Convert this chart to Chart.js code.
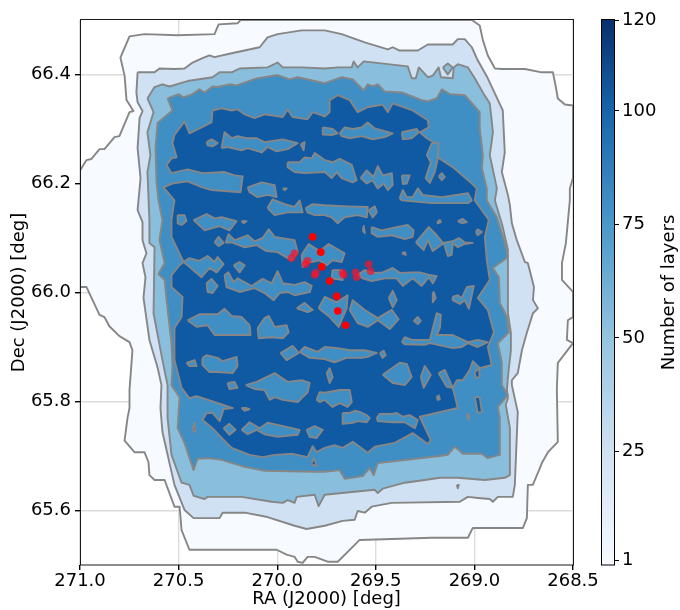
<!DOCTYPE html>
<html><head><meta charset="utf-8">
<style>html,body{margin:0;padding:0;background:#fff}#w{width:680px;height:610px;position:relative}</style>
<script src="https://cdn.jsdelivr.net/npm/chart.js@4/dist/chart.umd.min.js"></script>
</head><body><div id="w"><canvas id="c" width="680" height="610"></canvas></div>
<script>
const raTicks=[271,270.5,270,269.5,269,268.5];
const decTicks=[65.6,65.8,66,66.2,66.4];
const layerTicks=[1,25,50,75,100,120];
const colorbarValues=[0,25,50,75,100,120];
const colorbarColors=['#f7fbff','#d0e1f2','#94c4df','#4a98c9','#1764ab','#08306b'];
const levelColors=['#f7fbff','#cfe1f2','#89bedc','#3f8fc5','#1059a3'];
// contour outlines: flat RA, Dec pairs
const level1=[270.186,66.5,269.013,66.5,268.973,66.490,268.957,66.463,268.932,66.435,268.896,66.411,268.861,66.410,268.744,66.410,268.658,66.404,268.602,66.404,268.587,66.377,268.577,66.356,268.541,66.345,268.5,66.343,268.5,66.210,268.516,66.191,268.516,66.169,268.536,66.091,268.556,66.054,268.556,66.023,268.5,66.001,268.5,65.955,268.526,65.949,268.531,65.913,268.5,65.907,268.577,65.871,268.582,65.821,268.577,65.726,268.627,65.707,268.658,65.687,268.678,65.669,268.704,65.647,268.729,65.647,268.734,65.586,268.754,65.568,269.008,65.568,269.033,65.550,269.216,65.550,269.582,65.546,269.607,65.537,269.693,65.506,269.744,65.506,269.810,65.515,269.846,65.515,269.871,65.504,269.896,65.506,269.912,65.515,269.952,65.519,270.003,65.528,270.445,65.528,270.485,65.564,270.495,65.607,270.521,65.607,270.571,65.656,270.622,65.656,270.648,65.665,270.653,65.689,270.673,65.707,270.724,65.707,270.774,65.728,270.759,65.770,270.749,65.788,270.749,65.821,270.734,65.894,270.749,65.909,270.800,65.920,270.851,65.938,270.876,65.955,270.901,65.959,270.967,66.010,271,66.010,271,66.224,270.967,66.243,270.942,66.245,270.901,66.263,270.876,66.263,270.825,66.285,270.800,66.287,270.749,66.331,270.729,66.333,270.764,66.353,270.774,66.398,270.795,66.431,270.749,66.470,270.673,66.474,270.505,66.472,270.318,66.474,270.297,66.492,270.201,66.494];
const level25=[270.708,66.404,270.622,66.404,270.597,66.411,270.521,66.410,270.470,66.411,270.429,66.422,270.379,66.430,270.343,66.435,270.318,66.432,270.231,66.439,270.089,66.450,270.049,66.468,269.998,66.474,269.876,66.481,269.759,66.481,269.673,66.474,269.556,66.459,269.439,66.446,269.414,66.450,269.379,66.444,269.287,66.444,269.236,66.455,269.110,66.455,269.084,66.465,269.049,66.465,269.013,66.450,268.983,66.426,268.932,66.393,268.856,66.334,268.846,66.257,268.861,66.221,268.830,66.179,268.820,66.160,268.810,66.127,268.785,66.096,268.744,66.056,268.729,66.054,268.698,66.010,268.703,65.986,268.678,65.971,268.703,65.962,268.734,65.926,268.759,65.894,268.780,65.852,268.810,65.839,268.810,65.830,268.780,65.781,268.795,65.647,268.805,65.625,268.881,65.625,268.906,65.616,268.922,65.621,268.982,65.623,269.033,65.625,269.074,65.616,269.419,65.614,269.521,65.607,269.556,65.596,269.592,65.599,269.607,65.583,269.668,65.581,269.759,65.572,269.851,65.566,269.912,65.572,270.049,65.588,270.165,65.596,270.277,65.596,270.292,65.586,270.424,65.586,270.470,65.601,270.521,65.647,270.582,65.744,270.592,65.788,270.587,65.830,270.607,65.863,270.648,65.913,270.678,65.990,270.668,66.028,270.683,66.054,270.663,66.072,270.683,66.096,270.683,66.129,270.708,66.151,270.693,66.210,270.708,66.265,270.698,66.320,270.683,66.333,270.708,66.349,270.714,66.367];
const level50=[270.658,66.356,270.622,66.377,270.582,66.382,270.546,66.378,270.455,66.388,270.328,66.395,270.292,66.404,270.231,66.404,270.191,66.411,270.049,66.413,269.998,66.422,269.972,66.413,269.876,66.413,269.759,66.411,269.693,66.413,269.622,66.413,269.612,66.424,269.592,66.413,269.561,66.424,269.338,66.415,269.318,66.393,269.297,66.393,269.282,66.413,269.236,66.395,269.211,66.398,269.181,66.413,269.170,66.395,269.110,66.393,269.105,66.413,269.084,66.419,269.033,66.413,268.998,66.393,268.957,66.367,268.922,66.347,268.906,66.294,268.922,66.252,268.886,66.191,268.896,66.169,268.856,66.120,268.830,66.078,268.830,66.017,268.830,65.962,268.815,65.926,268.815,65.894,268.830,65.845,268.835,65.821,268.830,65.806,268.841,65.794,268.820,65.751,268.820,65.665,268.846,65.660,268.947,65.656,269.084,65.660,269.175,65.660,269.252,65.656,269.353,65.651,269.465,65.640,269.490,65.632,269.505,65.638,269.622,65.634,269.759,65.629,269.790,65.608,269.810,65.629,269.901,65.625,269.912,65.614,269.947,65.619,269.972,65.614,270.028,65.616,270.181,65.625,270.353,65.625,270.368,65.621,270.424,65.627,270.445,65.647,270.485,65.651,270.536,65.702,270.556,65.770,270.556,65.830,270.582,65.876,270.627,65.962,270.622,66.083,270.648,66.091,270.648,66.133,270.658,66.221,270.643,66.252,270.658,66.294,270.627,66.331];
const level50Specks=[[269.160,66.413,269.135,66.420,269.110,66.413,269.135,66.400],[269.089,65.647,269.079,65.647,269.084,65.641]];
const level75=[270.556,66.356,270.500,66.364,270.475,66.358,270.429,66.364,270.394,66.373,270.368,66.367,270.328,66.378,270.302,66.377,270.242,66.382,270.206,66.380,270.104,66.393,269.998,66.399,269.937,66.391,269.896,66.395,269.759,66.384,269.673,66.395,269.617,66.391,269.561,66.371,269.541,66.382,269.516,66.378,269.490,66.382,269.455,66.369,269.368,66.367,269.267,66.353,269.236,66.351,269.191,66.356,269.165,66.373,269.125,66.364,269.049,66.362,268.973,66.331,268.973,66.301,268.957,66.252,268.962,66.228,268.937,66.191,268.937,66.169,268.886,66.138,268.846,66.091,268.830,66.065,268.906,66.045,268.876,66.028,268.871,65.981,268.835,65.955,268.825,65.927,268.881,65.907,268.861,65.871,268.861,65.830,268.830,65.812,268.881,65.790,268.871,65.770,268.871,65.702,268.932,65.696,268.962,65.704,268.988,65.704,269.059,65.704,269.099,65.717,269.135,65.702,269.175,65.700,269.490,65.687,269.511,65.665,269.531,65.678,269.566,65.663,269.658,65.658,269.683,65.674,269.759,65.671,269.810,65.671,270.064,65.673,270.165,65.680,270.282,65.693,270.353,65.696,270.404,65.695,270.424,65.674,270.470,65.724,270.505,65.751,270.495,65.808,270.536,65.830,270.531,65.863,270.536,65.907,270.561,65.986,270.571,66.023,270.602,66.034,270.571,66.054,270.597,66.096,270.582,66.133,270.602,66.169,270.612,66.202,270.617,66.265,270.607,66.311,270.531,66.334];
const level100=[270.328,66.334,270.282,66.338,270.231,66.334,270.201,66.336,270.165,66.327,270.115,66.320,270.064,66.327,269.972,66.322,269.947,66.336,269.922,66.322,269.846,66.318,269.820,66.331,269.759,66.323,269.734,66.331,269.734,66.353,269.693,66.362,269.632,66.353,269.592,66.331,269.541,66.340,269.465,66.345,269.439,66.331,269.414,66.347,269.313,66.334,269.236,66.316,269.231,66.303,269.277,66.294,269.241,66.283,269.201,66.274,269.186,66.248,269.110,66.230,269.013,66.200,268.988,66.191,268.998,66.169,268.927,66.133,268.947,66.102,268.937,66.059,268.922,66.023,268.983,65.990,268.932,65.968,268.901,65.927,268.932,65.900,268.912,65.867,268.973,65.861,269.008,65.874,269.023,65.858,269.059,65.839,269.089,65.839,269.110,65.825,269.084,65.788,269.277,65.772,269.221,65.729,269.236,65.722,269.313,65.742,269.404,65.724,269.505,65.717,269.541,65.706,269.617,65.726,269.668,65.715,269.709,65.720,269.759,65.715,269.800,65.707,269.820,65.718,269.846,65.698,269.922,65.704,270.013,65.702,270.074,65.698,270.140,65.702,270.231,65.715,270.282,65.733,270.328,65.751,270.379,65.766,270.358,65.779,270.328,65.779,270.292,65.764,270.272,65.786,270.226,65.788,270.277,65.794,270.409,65.810,270.445,65.806,270.485,65.825,270.521,65.876,270.521,65.935,270.485,65.955,270.480,65.992,270.536,66.010,270.536,66.032,270.495,66.050,270.475,66.056,270.536,66.102,270.536,66.133,270.521,66.169,270.577,66.193,270.531,66.200,270.455,66.204,270.379,66.193,270.333,66.188,270.186,66.184,270.175,66.213,270.216,66.215,270.267,66.221,270.379,66.219,270.455,66.226,270.536,66.219,270.561,66.234,270.536,66.246,270.510,66.248,270.531,66.274,270.521,66.289,270.470,66.314,270.445,66.292,270.394,66.301,270.333,66.312];
// islands below 100 layers inside the deepest region
const islands=[
[270.358,66.276,270.333,66.281,270.302,66.274,270.328,66.268,270.353,66.270],
[270.282,66.265,270.267,66.294,270.231,66.283,270.201,66.287,270.155,66.283,270.104,66.283,270.064,66.276,269.972,66.281,269.896,66.274,269.947,66.263,270.003,66.259,270.049,66.267,270.079,66.257,270.150,66.265,270.181,66.261,270.252,66.267],
[269.881,66.272,269.861,66.276,269.866,66.261],
[269.947,66.239,269.886,66.239,269.861,66.248,269.825,66.246,269.810,66.256,269.759,66.243,269.719,66.239,269.683,66.245,269.622,66.234,269.597,66.206,269.617,66.202,269.673,66.210,269.698,66.221,269.724,66.210,269.759,66.221,269.861,66.219,269.912,66.221,269.947,66.230],
[270.150,66.193,270.079,66.202,270.013,66.197,270.003,66.175,270.049,66.179,270.099,66.175,270.140,66.184],
[269.972,66.191,269.952,66.191,269.962,66.188],
[270.049,66.155,270.023,66.171,269.962,66.162,269.912,66.157,269.886,66.169,269.871,66.147,269.947,66.147,270.013,66.142],
[269.856,66.155,269.820,66.162,269.759,66.160,269.643,66.158,269.541,66.157,269.546,66.138,269.592,66.142,269.658,66.138,269.693,66.127,269.724,66.138,269.759,66.142,269.810,66.142,269.846,66.147],
[269.536,66.151,269.505,66.158,269.495,66.147,269.516,66.138],
[269.379,66.173,269.363,66.188,269.343,66.175,269.313,66.175,269.287,66.191,269.262,66.179,269.165,66.175,269.033,66.182,269.013,66.169,269.033,66.164,269.216,66.164,269.368,66.169],
[269.769,66.303,269.719,66.300,269.693,66.292,269.724,66.289,269.769,66.290],
[269.683,66.292,269.658,66.303,269.617,66.300,269.571,66.303,269.541,66.312,269.505,66.301,269.414,66.292,269.455,66.285,269.516,66.281,269.571,66.287,269.632,66.283,269.673,66.287],
[269.368,66.294,269.292,66.300,269.282,66.294,269.318,66.283,269.363,66.281],
[269.216,66.274,269.181,66.274,269.186,66.246,269.201,66.221,269.226,66.201,269.247,66.210,269.221,66.239,269.241,66.252],
[269.577,66.210,269.546,66.224,269.511,66.212,269.490,66.232,269.465,66.215,269.419,66.219,269.414,66.197,269.439,66.188,269.460,66.200,269.490,66.191,269.516,66.206,269.546,66.200],
[269.368,66.215,269.328,66.215,269.343,66.200,269.363,66.199],
[269.181,66.213,269.165,66.219,269.150,66.212,269.165,66.206],
[270.505,66.142,270.470,66.142,270.460,66.131,270.485,66.124,270.505,66.127],
[270.424,66.133,270.358,66.144,270.318,66.136,270.282,66.138,270.206,66.131,270.242,66.114,270.292,66.122,270.328,66.118,270.368,66.114],
[270.181,66.131,270.155,66.131,270.170,66.127],
[270.318,66.092,270.297,66.102,270.272,66.091,270.297,66.085],
[270.262,66.091,270.247,66.107,270.216,66.096,270.150,66.105,270.115,66.094,270.074,66.100,270.043,66.116,270.013,66.102,269.912,66.096,269.896,66.074,269.927,66.059,269.998,66.074,270.054,66.076,270.104,66.087,270.165,66.083,270.231,66.092],
[269.876,66.069,269.840,66.089,269.785,66.076,269.739,66.089,269.658,66.072,269.673,66.056,269.719,66.059,269.749,66.050,269.785,66.059,269.851,66.054,269.871,66.047],
[270.475,66.056,270.445,66.063,270.394,66.058,270.353,66.067,270.318,66.056,270.302,66.065,270.272,66.052,270.307,66.037,270.343,66.045,270.384,66.028,270.445,66.047],
[270.221,66.050,270.191,66.056,270.165,66.050,270.191,66.037],
[270.358,66.017,270.333,66.025,270.302,66.012,270.328,65.999,270.353,66.001],
[270.267,66.032,270.247,66.037,270.221,66.019,270.201,66.026,270.130,66.012,270.074,66.025,270.028,66.017,269.998,66.039,269.972,66.017,269.912,66.014,269.861,66.019,269.825,66.012,269.835,66.001,269.912,65.995,269.947,66.001,269.988,65.999,270.018,65.986,270.064,65.999,270.115,66.008,270.191,66.001,270.257,66.010],
[269.901,65.971,269.861,65.981,269.820,65.968,269.846,65.964],
[269.790,65.971,269.759,65.992,269.698,65.982,269.643,65.995,269.648,65.971,269.688,65.937,269.734,65.955],
[269.632,65.968,269.617,65.986,269.556,65.968,269.490,65.953,269.419,65.968,269.384,65.951,269.429,65.933,269.490,65.949,269.541,65.937,269.592,65.944],
[269.724,66.026,269.719,66.041,269.673,66.041,269.668,66.023],
[269.592,66.032,269.556,66.041,269.505,66.036,269.465,66.037,269.414,66.045,269.379,66.036,269.313,66.037,269.277,66.037,269.226,66.032,269.191,66.030,269.211,66.017,269.231,66.028,269.267,66.012,269.313,66.026,269.363,66.012,269.394,66.026,269.455,66.026,269.521,66.021,269.566,66.026],
[269.521,66.120,269.470,66.114,269.419,66.118,269.338,66.124,269.308,66.114,269.313,66.102,269.353,66.098,269.419,66.105,269.490,66.102,269.521,66.109],
[269.566,66.114,269.561,66.122,269.556,66.109],
[269.186,66.131,269.175,66.133,269.170,66.129,269.186,66.127],
[269.084,66.131,269.059,66.135,269.038,66.129,269.064,66.127],
[268.993,66.111,268.983,66.116,268.962,66.111,268.983,66.105],
[269.297,66.092,269.231,66.120,269.191,66.105,269.160,66.091,269.110,66.094,269.079,66.100,269.049,66.092,269.008,66.091,269.049,66.089,269.084,66.083,269.110,66.091,269.115,66.069,269.135,66.067,269.155,66.091,269.211,66.076,269.236,66.096,269.257,66.078],
[269.368,66.072,269.353,66.074,269.348,66.069],
[269.434,65.990,269.414,66.003,269.394,65.986,269.414,65.973],
[269.211,65.999,269.206,66.001,269.196,65.990,269.211,65.982],
[269.110,65.992,269.084,65.995,269.064,65.990,269.038,66.010,269.003,66.012,269.028,65.970,269.049,65.986,269.074,65.979,269.110,65.986],
[269.308,65.948,269.287,65.955,269.272,65.948,269.287,65.942],
[269.368,65.909,269.353,65.918,269.318,65.913,269.252,65.913,269.226,65.913,269.191,65.962,269.170,65.959,269.175,65.935,269.191,65.922,269.110,65.922,269.033,65.909,268.983,65.913,268.932,65.909,268.983,65.900,269.033,65.907,269.064,65.900,269.110,65.898,269.226,65.907,269.252,65.904,269.353,65.905],
[269.886,65.891,269.861,65.900,269.795,65.891,269.759,65.900,269.693,65.898,269.632,65.894,269.556,65.894,269.495,65.889,269.541,65.882,269.571,65.880,269.648,65.880,269.709,65.872,269.759,65.878,269.835,65.880],
[270.455,65.949,270.394,65.960,270.302,65.960,270.267,65.970,270.231,65.957,270.181,65.955,270.140,65.940,270.135,65.922,270.231,65.922,270.318,65.922,270.353,65.940,270.409,65.937],
[270.099,65.935,270.064,65.953,270.043,65.957,270.013,65.937,269.952,65.940,269.942,65.927,269.972,65.916,270.028,65.918,270.094,65.916],
[269.983,65.889,269.922,65.902,269.891,65.889,269.952,65.876],
[269.480,65.889,269.460,65.893,269.450,65.885,269.465,65.880],
[270.460,65.871,270.419,65.876,270.409,65.865,270.445,65.865],
[270.379,65.880,270.358,65.885,270.302,65.880,270.277,65.874,270.206,65.882,270.201,65.865,270.226,65.852,270.302,65.854,270.343,65.854,270.379,65.867],
[270.252,65.834,270.216,65.836,270.201,65.825,270.242,65.823],
[270.160,65.830,270.104,65.836,270.013,65.852,269.947,65.836,269.876,65.839,269.835,65.834,269.846,65.817,269.896,65.799,269.972,65.803,270.013,65.808,270.038,65.803,270.064,65.821,270.115,65.823],
[269.800,65.803,269.785,65.817,269.759,65.816,269.683,65.821,269.632,65.821,269.622,65.799,269.643,65.790,269.683,65.797,269.719,65.790,269.759,65.803,269.785,65.799],
[270.181,65.788,270.155,65.788,270.140,65.786,270.165,65.783],
[270.272,65.751,270.242,65.759,270.211,65.748,270.242,65.739],
[270.181,65.748,270.140,65.762,270.089,65.751,270.049,65.761,269.947,65.753,269.886,65.748,269.896,65.739,269.998,65.735,270.064,65.740,270.104,65.748,270.150,65.740],
[269.851,65.748,269.810,65.755,269.769,65.748,269.800,65.733,269.835,65.735],
[269.668,65.779,269.632,65.779,269.607,65.783,269.582,65.781,269.546,65.775,269.531,65.770,269.546,65.762,269.592,65.764,269.617,65.761,269.668,65.759],
[269.495,65.770,269.480,65.777,269.419,65.777,269.394,65.779,269.363,65.772,269.328,65.775,269.287,65.766,269.302,65.751,269.353,65.762,269.419,65.762,269.490,65.764],
[269.749,65.852,269.734,65.861,269.719,65.845,269.734,65.834],
[269.465,65.849,269.379,65.871,269.343,65.869,269.318,65.845,269.353,65.830,269.414,65.834],
[269.272,65.845,269.252,65.865,269.221,65.849,269.257,65.825],
[269.181,65.852,269.150,65.858,269.110,65.825,269.140,65.827],
[269.191,65.809,269.181,65.811,269.175,65.804,269.186,65.803]
];
// small pockets above 100 layers inside the 75-100 band
const deepPockets=[
[268.998,65.808,268.973,65.808,268.962,65.781,268.983,65.779],
[268.998,65.854,268.977,65.861,268.973,65.845,268.993,65.843],
[270.429,65.748,270.419,65.761,270.414,65.744],
[269.825,65.687,269.815,65.696,269.800,65.683,269.820,65.683],
[269.038,65.777,269.028,65.777,269.028,65.766]
];
const sourceRa=[269.820,269.779,269.774,269.734,269.698,269.693,269.653];
const sourceDec=[66.102,66.074,66.047,66.021,65.993,65.966,65.940];
const fadedRa=[269.912,269.927,269.846,269.856,269.805,269.810,269.668,269.663,269.602,269.597,269.536,269.526];
const fadedDec=[66.072,66.063,66.058,66.052,66.036,66.032,66.036,66.032,66.037,66.028,66.052,66.039];

const toPoints=f=>{const p=[];for(let i=0;i<f.length;i+=2)p.push({x:f[i],y:f[i+1]});p.push({x:f[0],y:f[1]});return p;};
const shapes=[];
const addShape=(flat,color)=>shapes.push({data:toPoints(flat),showLine:true,fill:'shape',backgroundColor:color,borderColor:'#868686',borderWidth:1.9,pointRadius:0,borderJoinStyle:'round',tension:0});
addShape(level1,levelColors[0]);
addShape(level25,levelColors[1]);
addShape(level50,levelColors[2]);
level50Specks.forEach(s=>addShape(s,levelColors[2]));
addShape(level75,levelColors[3]);
addShape(level100,levelColors[4]);
islands.forEach(s=>addShape(s,levelColors[3]));
deepPockets.forEach(s=>addShape(s,levelColors[4]));
shapes.forEach((d,i)=>d.order=1000-i);
const pts=(xs,ys)=>xs.map((x,i)=>({x,y:ys[i]}));
shapes.push({data:pts(fadedRa,fadedDec),showLine:false,pointRadius:3.8,pointBackgroundColor:'rgba(250,20,40,0.72)',pointBorderWidth:0,order:1});
shapes.push({data:pts(sourceRa,sourceDec),showLine:false,pointRadius:3.8,pointBackgroundColor:'#ff0000',pointBorderWidth:0,order:0});

const FONT='"DejaVu Sans"';
const frame={id:'frame',afterDatasetsDraw(ch){
 const {ctx,chartArea:a}=ch;ctx.save();ctx.strokeStyle='#1a1a1a';ctx.lineWidth=1;
 ctx.strokeRect(a.left+.5,a.top-.5,a.right-a.left,a.bottom-a.top+.5);
 const s=ch.scales.layers,x0=s.left-13,x1=s.left;
 const t=s.getPixelForValue(120),b=s.getPixelForValue(0);
 const g=ctx.createLinearGradient(0,b,0,t);
 colorbarValues.forEach((v,i)=>g.addColorStop(v/120,colorbarColors[i]));
 ctx.fillStyle=g;ctx.fillRect(x0,t,x1-x0,b-t);
 ctx.strokeStyle='#000';ctx.strokeRect(x0+.5,t-.5,x1-x0,b-t+.5);
 ctx.translate(669,(t+b)/2);ctx.rotate(-Math.PI/2);
 ctx.font='18px '+FONT;ctx.fillStyle='#000';ctx.textAlign='center';ctx.textBaseline='middle';
 ctx.fillText('Number of layers',0,0);ctx.restore();
}};
const setTicks=arr=>a=>{a.ticks=arr.map(v=>({value:v}));};
new Chart(document.getElementById('c'),{type:'scatter',data:{datasets:shapes},plugins:[frame],
options:{responsive:false,animation:false,events:[],layout:{padding:{top:20,left:0,right:0,bottom:0}},
plugins:{legend:{display:false},tooltip:{enabled:false},title:{display:false}},
font:{family:FONT},
scales:{
 x:{type:'linear',reverse:true,min:268.5,max:271,position:'bottom',afterBuildTicks:setTicks(raTicks),afterFit(s){s.height=45;},
  grid:{color:'#dcdcdc',tickColor:'#000',tickLength:5,lineWidth:1.4},border:{display:false},
  ticks:{font:{family:FONT,size:18},color:'#000',padding:1,maxRotation:0,autoSkip:false,callback:v=>v.toFixed(1)},
  title:{display:true,text:'RA (J2000) [deg]',font:{family:FONT,size:18},color:'#000',padding:{top:0,bottom:0}}},
 y:{type:'linear',min:65.5,max:66.5,position:'left',afterBuildTicks:setTicks(decTicks),afterFit(s){s.width=80;},
  grid:{color:'#dcdcdc',tickColor:'#000',tickLength:5,lineWidth:1.4},border:{display:false},
  ticks:{font:{family:FONT,size:18},color:'#000',padding:4,autoSkip:false,callback:v=>v.toFixed(1)},
  title:{display:true,text:'Dec (J2000) [deg]',font:{family:FONT,size:18},color:'#000',padding:{top:9,bottom:0}}},
 spacer:{type:'linear',position:'right',weight:0,display:true,afterFit(s){s.width=41;},grid:{display:false},border:{display:false},ticks:{display:false}},
 layers:{type:'linear',position:'right',weight:1,min:0,max:120,afterBuildTicks:setTicks(layerTicks),afterFit(s){s.width=66;},
  grid:{drawOnChartArea:false,tickColor:'#000',tickLength:5},border:{display:false},
  ticks:{font:{family:FONT,size:18},color:'#000',padding:3,autoSkip:false,callback:v=>String(v)}}
}}});
</script></body></html>
